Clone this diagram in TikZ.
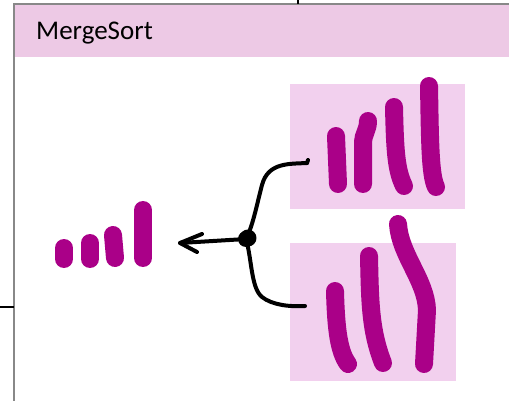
\documentclass[tikz,border=0pt]{standalone}
\usepackage{fontspec}
\setmainfont{Carlito}
\usetikzlibrary{arrows.meta,calc}
\definecolor{hdr}{RGB}{237,201,229}
\definecolor{boxpink}{RGB}{242,208,238}
\definecolor{barc}{RGB}{170,0,136}
\definecolor{framec}{RGB}{136,136,136}
\begin{document}
\begin{tikzpicture}[x=1pt,y=-1pt,
 barline/.style={line width=18pt,line cap=round,line join=round,draw=barc},
 ink/.style={line width=4pt,line cap=round,line join=round,draw=black},
 panel/.style={fill=boxpink,draw=none,inner sep=0pt,anchor=north west},
 tick/.style={draw=black,line width=1.3pt}]
\useasboundingbox (0,0) rectangle (509,401);
% header
\fill[hdr] (15,5) rectangle (509,57);
\draw[framec,line width=2pt] (14,401) -- (14,4) -- (509,4);
\draw[tick] (298,0) -- (298,4);
\draw[tick] (0,307) -- (14,307);
\node[anchor=base west,font=\fontsize{27}{32}\selectfont,inner sep=0pt] (title) at (36,39.5) {MergeSort};
% panels
\node[panel,minimum width=175pt,minimum height=125pt] (top) at (290,84) {};
\node[panel,minimum width=166pt,minimum height=138pt] (bot) at (290,243) {};
% top bars
\draw[barline] (336,136) -- (338,184);
\draw[barline] (368,121) .. controls (368,130) and (363,135) .. (363,142) -- (363,184);
\draw[barline] (394,107) .. controls (395,150) and (396,170) .. (404,186);
\draw[barline] (429,86) .. controls (430,140) and (430,175) .. (436,187);
% bottom bars
\draw[barline] (335,291) .. controls (336,330) and (339,352) .. (348,364);
\draw[barline] (369,256) .. controls (370,300) and (370,330) .. (383,363);
\draw[barline] (398,224) .. controls (400,255) and (426,280) .. (427,310) -- (424,364);
% left bars
\draw[barline] (64,248) -- (64,259);
\draw[barline] (90,243) -- (90,259);
\draw[barline] (113,235) -- (115,258);
\draw[barline] (143,210) -- (143,258);
% brace and knot
\coordinate (k) at (246,239);
\coordinate (tip) at (180,243);
\coordinate (up) at (307,163);
\coordinate (dn) at (305,306);
\draw[ink] (up) .. controls (290,164) and (268,162) .. (262,185) .. controls (256,208) and (253,225) .. (k);
\draw[ink] (k) .. controls (252,260) and (251,288) .. (262,297) .. controls (272,305) and (290,307) .. (dn);
\draw[ink] (up) -- ++(1,-3);
\fill ($(k)+(0,0)$) circle[radius=8pt];
\draw[ink] ($(k)+(2,-1)$) circle[radius=6.5pt];
\fill ($(k)+(-1,1)$) circle[radius=6pt];
\draw[ink] (k) -- (tip);
\draw[ink] ($(tip)+(22,-9)$) -- (tip) -- ++(17,9);
\end{tikzpicture}
\end{document}
